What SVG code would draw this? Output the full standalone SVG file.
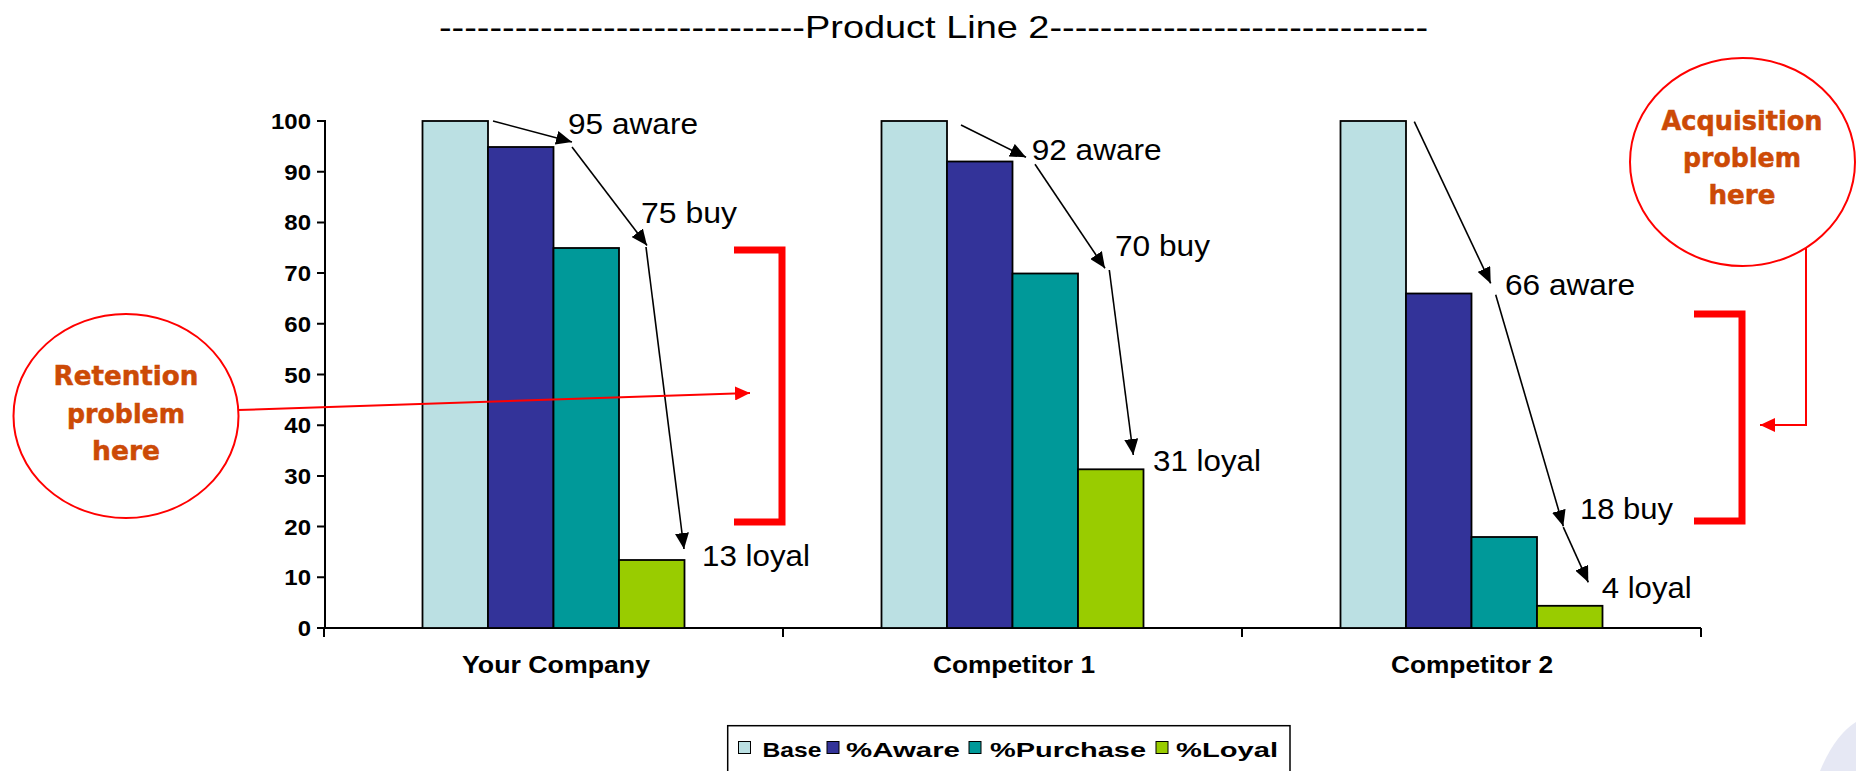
<svg xmlns="http://www.w3.org/2000/svg" width="1856" height="771" viewBox="0 0 1856 771">
<defs>
<marker id="ah" markerUnits="userSpaceOnUse" markerWidth="16" markerHeight="14" refX="16" refY="7" orient="auto"><path d="M0,0 L16,7 L0,14 Z" fill="#000"/></marker>
<marker id="rh" markerUnits="userSpaceOnUse" markerWidth="15" markerHeight="14" refX="15" refY="7" orient="auto"><path d="M0,0 L15,7 L0,14 Z" fill="#FF0000"/></marker>
<style>
.bar{stroke:#000;stroke-width:1.8}
.base{fill:#BBE0E3}.aw{fill:#333399}.pu{fill:#009999}.lo{fill:#99CC00}
.ax{stroke:#000;stroke-width:2;fill:none}
.yl{font-family:"Liberation Sans",Arial,sans-serif;font-weight:bold;font-size:22px;fill:#000;text-anchor:end}
.cat{font-family:"Liberation Sans",Arial,sans-serif;font-weight:bold;font-size:23px;fill:#000;text-anchor:middle}
.dl{font-family:"Liberation Sans",Arial,sans-serif;font-size:29px;fill:#000}
.lg{font-family:"Liberation Sans",Arial,sans-serif;font-weight:bold;font-size:21px;fill:#000}
.arr{stroke:#000;stroke-width:1.6;fill:none;marker-end:url(#ah)}
.rl{stroke:#FF0000;stroke-width:2;fill:none}
.br{stroke:#FF0000;stroke-width:7;fill:none}
.bub{fill:#fff;stroke:#FF0000;stroke-width:2}
.bt{font-family:"DejaVu Sans",sans-serif;font-weight:bold;font-size:26px;fill:#CC4A06;stroke:#CC4A06;stroke-width:0.5;text-anchor:middle}
</style>
</defs>
<rect width="1856" height="771" fill="#fff"/>
<path d="M1820,771 Q1835,735 1856,722 L1856,771 Z" fill="#E6E8F4"/>

<g id="title">
<text x="439" y="38" font-family="Liberation Sans,Arial,sans-serif" font-size="32" textLength="989" lengthAdjust="spacingAndGlyphs">-----------------------------Product Line 2------------------------------</text>
</g>

<g id="axes">
<line class="ax" x1="325" y1="120" x2="325" y2="629"/>
<line class="ax" x1="324" y1="628" x2="1701" y2="628"/>
<path class="ax" d="M317,628H325M317,577.3H325M317,526.6H325M317,475.9H325M317,425.2H325M317,374.5H325M317,323.8H325M317,273.1H325M317,222.4H325M317,171.7H325M317,121H325"/>
<path class="ax" d="M324,628V637M783,628V637M1242,628V637M1701,628V637"/>
<text class="yl" x="311" y="636" textLength="13.3" lengthAdjust="spacingAndGlyphs">0</text>
<text class="yl" x="311" y="585.3" textLength="26.7" lengthAdjust="spacingAndGlyphs">10</text>
<text class="yl" x="311" y="534.6" textLength="26.7" lengthAdjust="spacingAndGlyphs">20</text>
<text class="yl" x="311" y="483.9" textLength="26.7" lengthAdjust="spacingAndGlyphs">30</text>
<text class="yl" x="311" y="433.2" textLength="26.7" lengthAdjust="spacingAndGlyphs">40</text>
<text class="yl" x="311" y="382.5" textLength="26.7" lengthAdjust="spacingAndGlyphs">50</text>
<text class="yl" x="311" y="331.8" textLength="26.7" lengthAdjust="spacingAndGlyphs">60</text>
<text class="yl" x="311" y="281.1" textLength="26.7" lengthAdjust="spacingAndGlyphs">70</text>
<text class="yl" x="311" y="230.4" textLength="26.7" lengthAdjust="spacingAndGlyphs">80</text>
<text class="yl" x="311" y="179.7" textLength="26.7" lengthAdjust="spacingAndGlyphs">90</text>
<text class="yl" x="311" y="129" textLength="40" lengthAdjust="spacingAndGlyphs">100</text>
<text class="cat" x="556" y="673" textLength="188" lengthAdjust="spacingAndGlyphs">Your Company</text>
<text class="cat" x="1014" y="673" textLength="162" lengthAdjust="spacingAndGlyphs">Competitor 1</text>
<text class="cat" x="1472" y="673" textLength="162" lengthAdjust="spacingAndGlyphs">Competitor 2</text>
</g>

<g id="your-company">
<rect class="bar base" x="422.5" y="121" width="65.5" height="507"/>
<rect class="bar aw" x="488" y="147" width="65.5" height="481"/>
<rect class="bar pu" x="553.5" y="248" width="65.5" height="380"/>
<rect class="bar lo" x="619" y="560" width="65.5" height="68"/>
</g>
<g id="competitor-1">
<rect class="bar base" x="881.5" y="121" width="65.5" height="507"/>
<rect class="bar aw" x="947" y="161.5" width="65.5" height="466.5"/>
<rect class="bar pu" x="1012.5" y="273.5" width="65.5" height="354.5"/>
<rect class="bar lo" x="1078" y="469.3" width="65.5" height="158.7"/>
</g>
<g id="competitor-2">
<rect class="bar base" x="1340.5" y="121" width="65.5" height="507"/>
<rect class="bar aw" x="1406" y="293.5" width="65.5" height="334.5"/>
<rect class="bar pu" x="1471.5" y="537" width="65.5" height="91"/>
<rect class="bar lo" x="1537" y="605.8" width="65.5" height="22.2"/>
</g>

<g id="connectors">
<line class="arr" x1="493" y1="121" x2="572" y2="142"/>
<line class="arr" x1="572" y1="147" x2="647" y2="245.5"/>
<line class="arr" x1="646" y1="247" x2="684" y2="549"/>
<line class="arr" x1="961" y1="125" x2="1026" y2="157.3"/>
<line class="arr" x1="1035" y1="164.3" x2="1105" y2="268.3"/>
<line class="arr" x1="1109.3" y1="270" x2="1133.3" y2="455"/>
<line class="arr" x1="1414.3" y1="121.7" x2="1490.7" y2="283.4"/>
<line class="arr" x1="1495.7" y1="294.7" x2="1563.3" y2="526.2"/>
<line class="arr" x1="1563.3" y1="527.2" x2="1588.3" y2="582.3"/>
<line class="rl" x1="238" y1="410" x2="750" y2="393" marker-end="url(#rh)"/>
<path class="rl" d="M1806,248 V425 H1760" marker-end="url(#rh)"/>
</g>

<g id="data-labels">
<text class="dl" x="568" y="134" textLength="130" lengthAdjust="spacingAndGlyphs">95 aware</text>
<text class="dl" x="641" y="223" textLength="96" lengthAdjust="spacingAndGlyphs">75 buy</text>
<text class="dl" x="702" y="566" textLength="108" lengthAdjust="spacingAndGlyphs">13 loyal</text>
<text class="dl" x="1031.7" y="160" textLength="130" lengthAdjust="spacingAndGlyphs">92 aware</text>
<text class="dl" x="1115" y="255.7" textLength="95" lengthAdjust="spacingAndGlyphs">70 buy</text>
<text class="dl" x="1153" y="470.7" textLength="108" lengthAdjust="spacingAndGlyphs">31 loyal</text>
<text class="dl" x="1505" y="294.7" textLength="130" lengthAdjust="spacingAndGlyphs">66 aware</text>
<text class="dl" x="1580" y="519" textLength="93" lengthAdjust="spacingAndGlyphs">18 buy</text>
<text class="dl" x="1601.7" y="598" textLength="90" lengthAdjust="spacingAndGlyphs">4 loyal</text>
</g>

<g id="retention-bracket">
<path class="br" d="M734,250 H782 V522 H734"/>
</g>
<g id="acquisition-bracket">
<path class="br" d="M1694,314 H1742 V521 H1694"/>
</g>

<g id="retention-bubble">
<ellipse class="bub" cx="126" cy="416" rx="112.5" ry="102"/>
<text class="bt" x="126" y="385" textLength="145" lengthAdjust="spacingAndGlyphs">Retention</text>
<text class="bt" x="126" y="423.3" textLength="118" lengthAdjust="spacingAndGlyphs">problem</text>
<text class="bt" x="126" y="460" textLength="68" lengthAdjust="spacingAndGlyphs">here</text>
</g>

<g id="acquisition-bubble">
<ellipse class="bub" cx="1742.5" cy="162" rx="112.5" ry="104"/>
<text class="bt" x="1742" y="130" textLength="161" lengthAdjust="spacingAndGlyphs">Acquisition</text>
<text class="bt" x="1742" y="167.3" textLength="118" lengthAdjust="spacingAndGlyphs">problem</text>
<text class="bt" x="1742" y="204" textLength="67" lengthAdjust="spacingAndGlyphs">here</text>
</g>

<g id="legend">
<rect x="727.7" y="725.7" width="562.3" height="70" fill="#fff" stroke="#000" stroke-width="1.5"/>
<rect class="base" x="738.5" y="741.5" width="12" height="12" stroke="#000" stroke-width="1"/>
<text class="lg" x="762.5" y="757" textLength="59" lengthAdjust="spacingAndGlyphs">Base</text>
<rect class="aw" x="827" y="741.5" width="12" height="12" stroke="#000" stroke-width="1"/>
<text class="lg" x="846" y="757" textLength="114" lengthAdjust="spacingAndGlyphs">%Aware</text>
<rect class="pu" x="969" y="741.5" width="12" height="12" stroke="#000" stroke-width="1"/>
<text class="lg" x="990" y="757" textLength="156" lengthAdjust="spacingAndGlyphs">%Purchase</text>
<rect class="lo" x="1156" y="741.5" width="12" height="12" stroke="#000" stroke-width="1"/>
<text class="lg" x="1176" y="757" textLength="102" lengthAdjust="spacingAndGlyphs">%Loyal</text>
</g>
</svg>
